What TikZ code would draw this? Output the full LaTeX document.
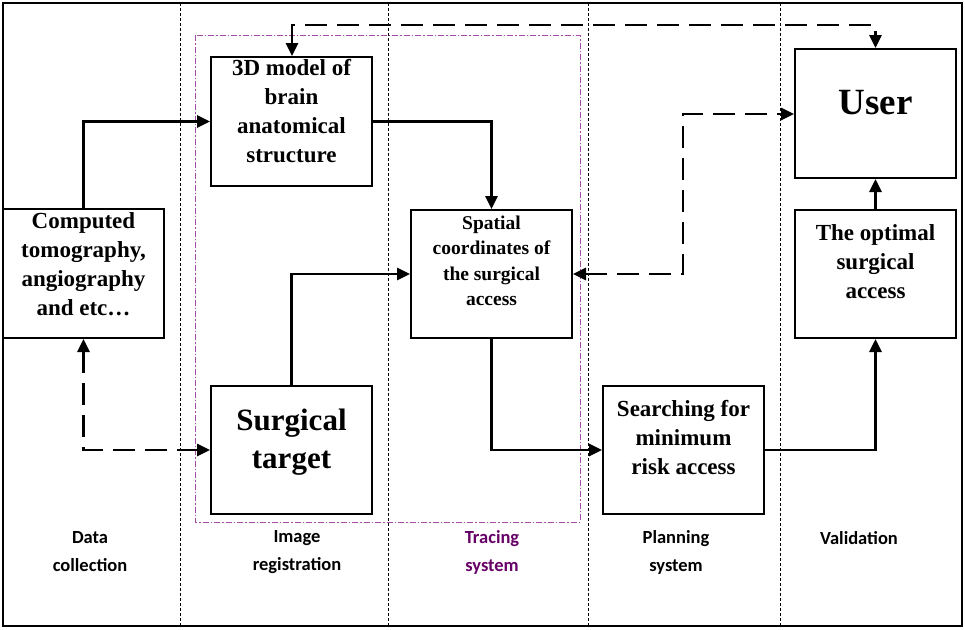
\documentclass[tikz,border=0pt]{standalone}
\usepackage{fontspec}
\setmainfont{Liberation Serif}
\newfontfamily\lab{Carlito}
\usetikzlibrary{arrows.meta}
\begin{document}
\begin{tikzpicture}[x=1pt,y=-1pt,
 box/.style={draw,line width=2pt,inner sep=0pt,align=center},
 txt/.style={font=\bfseries\fontsize{23}{29}\selectfont,align=center},
 con/.style={line width=2.8pt,-{Triangle[length=13pt,width=12pt]}},
 tip/.style={{Triangle[length=13pt,width=12pt]}-{Triangle[length=13pt,width=12pt]}},
 dcon/.style={con,tip,dash pattern=on 22pt off 10pt},
 sep/.style={dash pattern=on 3pt off 2pt,line width=0.6pt},
 lbl/.style={font=\lab\bfseries\fontsize{18.5}{28}\selectfont,align=center}]
\useasboundingbox (0,0) rectangle (965,629);
\draw[line width=2pt] (3,3) rectangle (962,626);
\foreach \x in {180,388,588,780} \draw[sep] (\x,3) -- (\x,626);
\draw[violet!70,line width=0.8pt,dash pattern=on 6pt off 2pt on 1.5pt off 2pt] (195,35) rectangle (580,522);
\node[box,minimum width=161pt,minimum height=129pt] (model) at (291.5,121.5) {};
\node[txt] (tm) at (291.5,111) {3D model of\\brain\\anatomical\\structure};
\node[box,minimum width=161pt,minimum height=129pt] (ct) at (83.5,273.5) {};
\node[txt] (tc) at (83.5,264) {Computed\\tomography,\\angiography\\and etc\dots};
\node[box,minimum width=161pt,minimum height=128pt] (sp) at (491.5,274) {};
\node[font=\bfseries\fontsize{19.5}{25.5}\selectfont,align=center] (ts) at (491.5,261) {Spatial\\coordinates of\\the surgical\\access};
\node[box,minimum width=161pt,minimum height=128pt] (st) at (291.5,450) {};
\node[font=\bfseries\fontsize{31}{38}\selectfont,align=center] (tt) at (291.5,442) {Surgical\\target};
\node[box,minimum width=161pt,minimum height=128pt] (se) at (683.5,450) {};
\node[txt] (te) at (683.5,438) {Searching for\\minimum\\risk access};
\node[box,minimum width=161pt,minimum height=129pt] (us) at (875.5,113.5) {};
\node[font=\bfseries\fontsize{37}{38}\selectfont] (tu) at (875.5,103) {User};
\node[box,minimum width=161pt,minimum height=128pt] (op) at (875.5,274) {};
\node[txt] (to) at (875.5,262) {The optimal\\surgical\\access};
\node[lbl] (l1) at (90,552) {Data\\collection};
\node[lbl] (l2) at (297,552) {Image\\registration};
\node[lbl,text=violet!80!black] (l3) at (492,552) {Tracing\\system};
\node[lbl] (l4) at (676,552) {Planning\\system};
\node[lbl] (l5) at (859,538) {Validation};
\draw[con] (ct.north) |- (model.west);
\draw[con] (model.east) -| (sp.north);
\draw[con] (st.north) |- (sp.west);
\draw[con] (sp.south) |- (se.west);
\draw[con] (se.east) -| (op.south);
\draw[con] (op.north) -- (us.south);
\coordinate (t) at (292,25);
\draw[dcon] (model.north -| t) -- (t) -| (us.north);
\draw[dcon] (sp.east) -| (683,114) -- (us.west |- 0,114);
\draw[dcon] (ct.south) |- (st.west);
\end{tikzpicture}
\end{document}
